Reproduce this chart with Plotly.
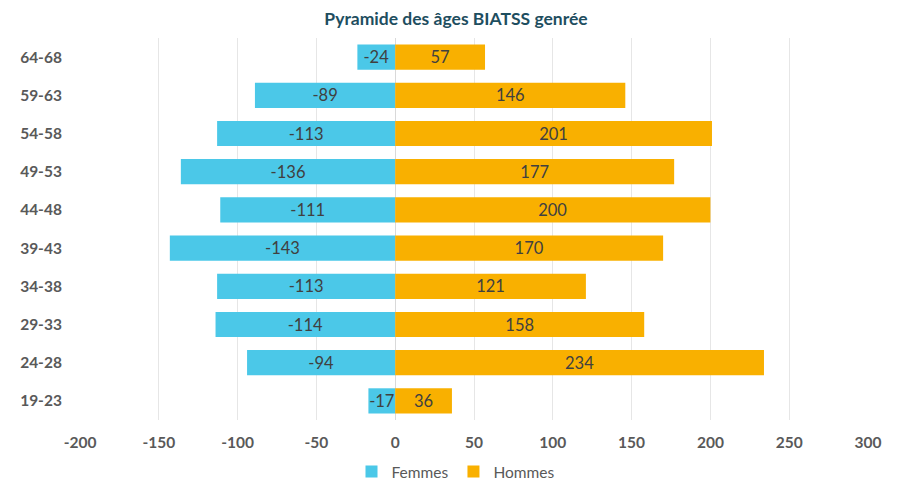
import plotly.graph_objects as go

categories = ["19-23", "24-28", "29-33", "34-38", "39-43", "44-48", "49-53", "54-58", "59-63", "64-68"]
femmes = [-17, -94, -114, -113, -143, -111, -136, -113, -89, -24]
hommes = [36, 234, 158, 121, 170, 200, 177, 201, 146, 57]
x_ticks = [-200, -150, -100, -50, 0, 50, 100, 150, 200, 250, 300]

FONT = "Lato, 'Open Sans', sans-serif"
W, H = 896, 474

fig = go.Figure()
fig.add_trace(go.Bar(
    y=categories, x=femmes, orientation="h", name="Femmes",
    marker=dict(color="#4BC8E8", line=dict(width=0)),
    text=[str(v) for v in femmes], textposition="inside", insidetextanchor="middle",
    textangle=0,
    textfont=dict(color="#404040", size=16.5, family=FONT), constraintext="none",
))
fig.add_trace(go.Bar(
    y=categories, x=hommes, orientation="h", name="Hommes",
    marker=dict(color="#F9B000", line=dict(width=0)),
    text=[str(v) for v in hommes], textposition="inside", insidetextanchor="middle",
    textangle=0,
    textfont=dict(color="#404040", size=16.5, family=FONT), constraintext="none",
))

fig.update_layout(
    width=W, height=H,
    barmode="relative", bargap=0.34,
    plot_bgcolor="white", paper_bgcolor="white",
    margin=dict(l=72, r=36, t=30, b=62, autoexpand=False),
    font=dict(family=FONT, color="#595959"),
    title=dict(text="<b>Pyramide des âges BIATSS genrée</b>", x=0.5, xanchor="center",
               xref="container", y=1 - 11 / H, yref="container", yanchor="middle",
               font=dict(size=17.5, color="#1E4E5F", family=FONT)),
    xaxis=dict(range=[-200, 300], tickvals=x_ticks, ticktext=["<b>%d</b>" % v for v in x_ticks],
               showgrid=True, gridcolor="#E6E6E6", gridwidth=1, zeroline=True,
               zerolinecolor="#D9D9D9", zerolinewidth=1,
               tickfont=dict(size=15.5, color="#595959", family=FONT),
               ticks="outside", ticklen=8, tickcolor="rgba(0,0,0,0)",
               showline=False, automargin=False),
    yaxis=dict(categoryorder="array", categoryarray=categories,
               tickvals=categories, ticktext=["<b>%s</b>" % c for c in categories],
               tickfont=dict(size=15.5, color="#595959", family=FONT),
               ticks="outside", ticklen=14, tickcolor="rgba(0,0,0,0)",
               showgrid=False, showline=False, automargin=False),
    legend=dict(orientation="h", x=0.5, xanchor="center", xref="container",
                y=10 / H, yref="container", yanchor="middle",
                font=dict(size=15.5, color="#595959", family=FONT),
                traceorder="normal"),
)

fig.write_html("out.html")
